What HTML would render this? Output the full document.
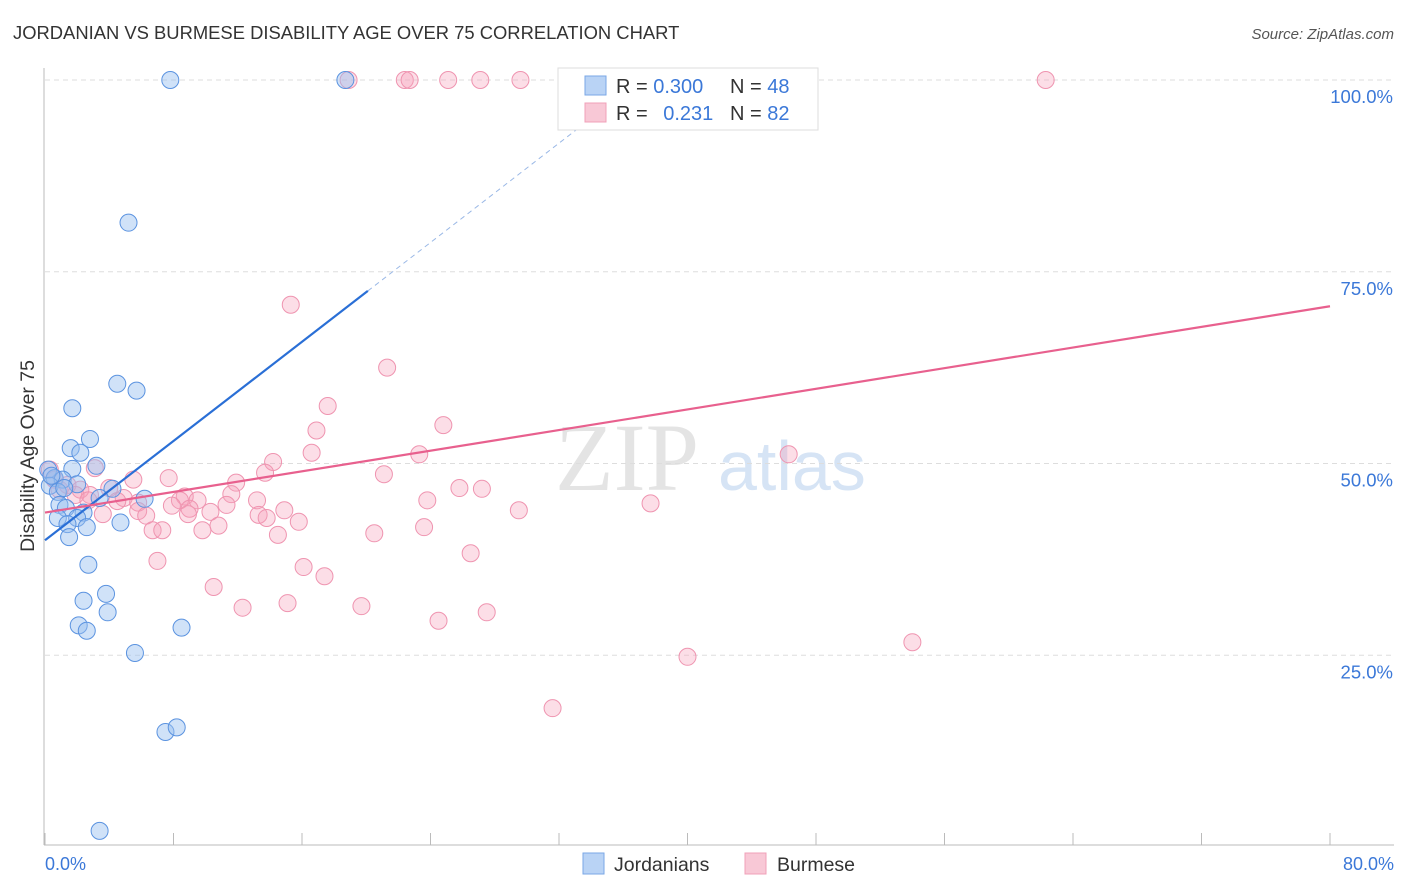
<!DOCTYPE html>
<html><head><meta charset="utf-8"><style>
body{margin:0;background:#fff;font-family:"Liberation Sans",sans-serif;}
#wrap{position:relative;width:1406px;height:892px;overflow:hidden;}
</style></head><body><div id="wrap">
<svg id="svg" width="1406" height="892" xmlns="http://www.w3.org/2000/svg">
<text x="13" y="39" font-size="18.4" fill="#333">JORDANIAN VS BURMESE DISABILITY AGE OVER 75 CORRELATION CHART</text>
<text x="1394" y="39" font-size="15" fill="#555" text-anchor="end" font-style="italic">Source: ZipAtlas.com</text>
<text x="555" y="490" font-size="96" fill="#e4e4e4" font-family="Liberation Serif">ZIP</text>
<text x="718" y="490" font-size="70" fill="#d6e4f5">atlas</text>
<g id="grid"></g><g id="axes"></g><g id="pts"></g><g id="lines"></g>
<text transform="translate(34,456) rotate(-90)" font-size="19.5" fill="#333" text-anchor="middle">Disability Age Over 75</text>
<text x="45" y="870" font-size="18" fill="#3b78d8">0.0%</text>
<text x="1394" y="870" font-size="18" fill="#3b78d8" text-anchor="end">80.0%</text>
<g>
<rect x="558" y="68" width="260" height="62" fill="#fff" stroke="#ddd"/>
<rect x="585" y="76" width="21" height="19" fill="#b9d3f5" stroke="#7aa7e6"/>
<rect x="585" y="103" width="21" height="19" fill="#f8c8d6" stroke="#f0a0b8"/>
<text x="616" y="93" font-size="20" fill="#333">R = <tspan fill="#3b78d8">0.300</tspan></text>
<text x="730" y="93" font-size="20" fill="#333">N = <tspan fill="#3b78d8">48</tspan></text>
<text x="616" y="120" font-size="20" fill="#333">R = <tspan fill="#3b78d8" dx="10">0.231</tspan></text>
<text x="730" y="120" font-size="20" fill="#333">N = <tspan fill="#3b78d8">82</tspan></text>
</g>
<g>
<rect x="583" y="853" width="21" height="21" fill="#b9d3f5" stroke="#7aa7e6"/>
<text x="614" y="871" font-size="19.5" fill="#333">Jordanians</text>
<rect x="745" y="853" width="21" height="21" fill="#f8c8d6" stroke="#f0a0b8"/>
<text x="777" y="871" font-size="19.5" fill="#333">Burmese</text>
</g>
</svg></div>
<script>
const yTicks=[25,50,75,100];
const yTickLabels=["25.0%","50.0%","75.0%","100.0%"];
const jorX=[7.8,18.7,5.2,4.5,5.7,1.7,2.8,1.6,2.2,3.2,1.7,0.2,0.6,1.1,2.0,0.3,4.2,0.8,3.4,6.2,0.9,1.3,2.4,0.8,2.0,1.4,2.6,4.7,1.5,2.7,3.8,2.4,3.9,2.1,2.6,8.5,5.6,7.5,8.2,3.4,0.4,1.2];
const jorY=[100,100,81.4,60.4,59.5,57.2,53.2,52.0,51.4,49.7,49.3,49.2,48.1,47.9,47.3,47.1,46.7,46.3,45.5,45.4,44.6,44.2,43.6,42.9,42.9,42.1,41.7,42.3,40.4,36.8,33.0,32.1,30.6,28.9,28.2,28.6,25.3,15.0,15.6,2.1,48.4,46.8];
const burX=[18.9,22.4,22.7,25.1,27.1,29.6,62.3,15.3,21.3,17.6,24.8,16.9,16.6,23.3,46.3,14.2,3.1,21.1,13.7,7.7,5.5,11.9,4.0,25.8,27.2,11.6,0.9,8.7,8.4,9.5,4.9,23.8,13.2,37.7,5.8,7.9,11.3,4.5,9.0,14.9,29.5,5.8,10.3,3.6,6.3,8.9,13.3,13.8,15.8,10.8,23.6,6.7,7.3,9.8,14.5,20.5,26.5,7.0,16.1,17.4,10.5,15.1,12.3,19.7,27.5,24.5,54.0,40.0,31.6,0.3,1.4,2.2,2.8,1.9,0.6,2.7];
const burY=[100,100,100,100,100,100,100,70.7,62.5,57.5,55.0,54.3,51.4,51.2,51.2,50.2,49.4,48.6,48.8,48.1,47.9,47.5,46.8,46.8,46.7,46.0,46.6,45.7,45.2,45.2,45.5,45.2,45.2,44.8,44.9,44.5,44.6,45.1,44.1,43.9,43.9,43.8,43.7,43.4,43.2,43.4,43.3,42.9,42.4,41.9,41.7,41.3,41.3,41.3,40.7,40.9,38.3,37.3,36.5,35.3,33.9,31.8,31.2,31.4,30.6,29.5,26.7,24.8,18.1,49.2,47.2,46.6,45.9,45.9,47.9,45.2];
const jorTrend=[[0,40.0],[20.1,72.5]];
const jorTrendDash=[[20.1,72.5],[34,95]];
const burTrend=[[0,43.6],[80,70.5]];
const X=v=>45+v/80*1285, Y=v=>847-v/100*767;
const NS="http://www.w3.org/2000/svg";
function mk(tag,attrs,parent){const e=document.createElementNS(NS,tag);for(const k in attrs)e.setAttribute(k,attrs[k]);document.getElementById(parent).appendChild(e);return e;}
yTicks.forEach((t,i)=>{
 const g=mk('line',{x1:45,x2:1394,y1:Y(t),y2:Y(t),stroke:'#ddd','stroke-dasharray':'5,4'},'grid');
 
 
 const l=mk('text',{x:1393,y:Y(t)+23,'font-size':18.5,fill:'#3b78d8','text-anchor':'end'},'grid');l.textContent=yTickLabels[i];
 
 
});
const ax=mk('line',{x1:44,x2:44,y1:68,y2:845,stroke:'#bbb'},'axes');


const bx=mk('line',{x1:44,x2:1394,y1:845,y2:845,stroke:'#bbb'},'axes');


for(let i=0;i<=10;i++){const t=mk('line',{x1:X(i*8),x2:X(i*8),y1:833,y2:845,stroke:'#bbb'},'axes');
 
 }
burX.forEach((x,i)=>{const c=mk('circle',{cx:X(x),cy:Y(burY[i]),r:8.5,fill:'rgba(245,160,185,0.35)',stroke:'#ef94b0','stroke-width':1},'pts');
 
 });
jorX.forEach((x,i)=>{const c=mk('circle',{cx:X(x),cy:Y(jorY[i]),r:8.5,fill:'rgba(150,190,240,0.45)',stroke:'#5b93e0','stroke-width':1},'pts');
 
 });
const l1=mk('line',{x1:X(jorTrend[0][0]),y1:Y(jorTrend[0][1]),x2:X(jorTrend[1][0]),y2:Y(jorTrend[1][1]),stroke:'#2a6fd6','stroke-width':2.2},'lines');


const l2=mk('line',{x1:X(jorTrendDash[0][0]),y1:Y(jorTrendDash[0][1]),x2:X(jorTrendDash[1][0]),y2:Y(jorTrendDash[1][1]),stroke:'#9ab8e6','stroke-width':1,'stroke-dasharray':'5,4'},'lines');


const l3=mk('line',{x1:X(burTrend[0][0]),y1:Y(burTrend[0][1]),x2:X(burTrend[1][0]),y2:Y(burTrend[1][1]),stroke:'#e8608e','stroke-width':2.2},'lines');


</script></body></html>
